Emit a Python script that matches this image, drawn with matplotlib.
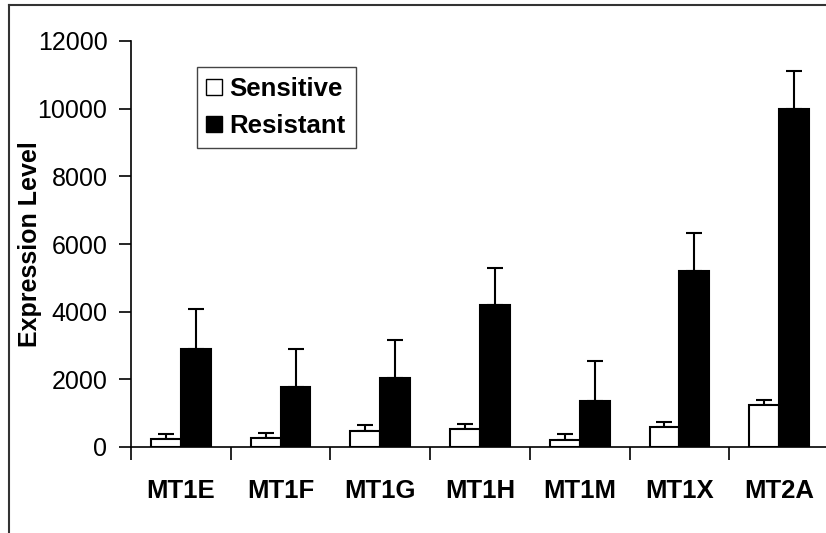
import numpy as np
import matplotlib
matplotlib.use("Agg")
import matplotlib.pyplot as plt
from matplotlib.lines import Line2D

plt.rcParams['font.family'] = ['Liberation Sans', 'DejaVu Sans']

# Data
genes = ['MT1E', 'MT1F', 'MT1G', 'MT1H', 'MT1M', 'MT1X', 'MT2A']
sensitive = [230, 270, 470, 520, 220, 580, 1255]
sensitive_err = [140, 150, 170, 160, 150, 160, 140]
resistant = [2900, 1775, 2025, 4190, 1345, 5215, 10000]
resistant_err = [1170, 1125, 1125, 1115, 1185, 1115, 1125]

W, H = 826, 533
fig = plt.figure(figsize=(W / 100, H / 100), dpi=100)
ax = fig.add_axes([131 / W, 1 - 447 / H, 698 / W, 406 / H])

x = np.arange(len(genes)) + 0.5
bw = 0.3
ax.bar(x - bw / 2, sensitive, bw, color='white', edgecolor='black', linewidth=1.5, zorder=2)
ax.bar(x + bw / 2, resistant, bw, color='black', edgecolor='black', linewidth=1.5, zorder=2)
ax.errorbar(x - bw / 2, sensitive, yerr=[np.zeros(len(genes)), sensitive_err], fmt='none',
            ecolor='black', elinewidth=1.5, capsize=6, capthick=1.5, zorder=1)
ax.errorbar(x + bw / 2, resistant, yerr=[np.zeros(len(genes)), resistant_err], fmt='none',
            ecolor='black', elinewidth=1.5, capsize=6, capthick=1.5, zorder=1)

ax.set_xlim(0, len(genes))
ax.set_ylim(0, 12000)
ax.set_yticks(np.arange(0, 12001, 2000))
ax.tick_params(axis='y', direction='out', length=9, width=1.2, pad=8, labelsize=18)

ax.set_xticks(np.arange(0, len(genes) + 1))
ax.set_xticklabels([])
ax.set_xticks(x, minor=True)
ax.set_xticklabels(genes, minor=True, fontweight='bold', fontsize=18.5)
ax.tick_params(axis='x', which='major', direction='out', length=9, width=1.2)
ax.tick_params(axis='x', which='minor', length=0, pad=23)

for s in ['top', 'right']:
    ax.spines[s].set_visible(False)
for s in ['left', 'bottom']:
    ax.spines[s].set_linewidth(1.2)

ax.set_ylabel('Expression Level', fontweight='bold', fontsize=18)
ax.yaxis.set_label_coords(-0.128, 0.5)

handles = [
    Line2D([], [], marker='s', linestyle='none', markersize=11, markerfacecolor='white',
           markeredgecolor='black', markeredgewidth=1),
    Line2D([], [], marker='s', linestyle='none', markersize=11, markerfacecolor='black',
           markeredgecolor='black', markeredgewidth=1),
]
leg = fig.legend(handles, ['Sensitive', 'Resistant'], loc='upper left',
                 bbox_to_anchor=(197 / W, 1 - 67 / H), borderaxespad=0,
                 prop={'weight': 'bold', 'size': 18.5}, fancybox=False,
                 edgecolor='#444444', framealpha=1, handlelength=0.5,
                 handletextpad=0.35, labelspacing=0.5, borderpad=0.4)
leg.get_frame().set_linewidth(1)

# figure border (top and left edges only visible)
fig.add_artist(Line2D([9 / W, 1], [1 - 5 / H, 1 - 5 / H], color='#333333', linewidth=1.5))
fig.add_artist(Line2D([9 / W, 9 / W], [0, 1 - 5 / H], color='#333333', linewidth=1.5))

fig.savefig('out.png', dpi=100)
